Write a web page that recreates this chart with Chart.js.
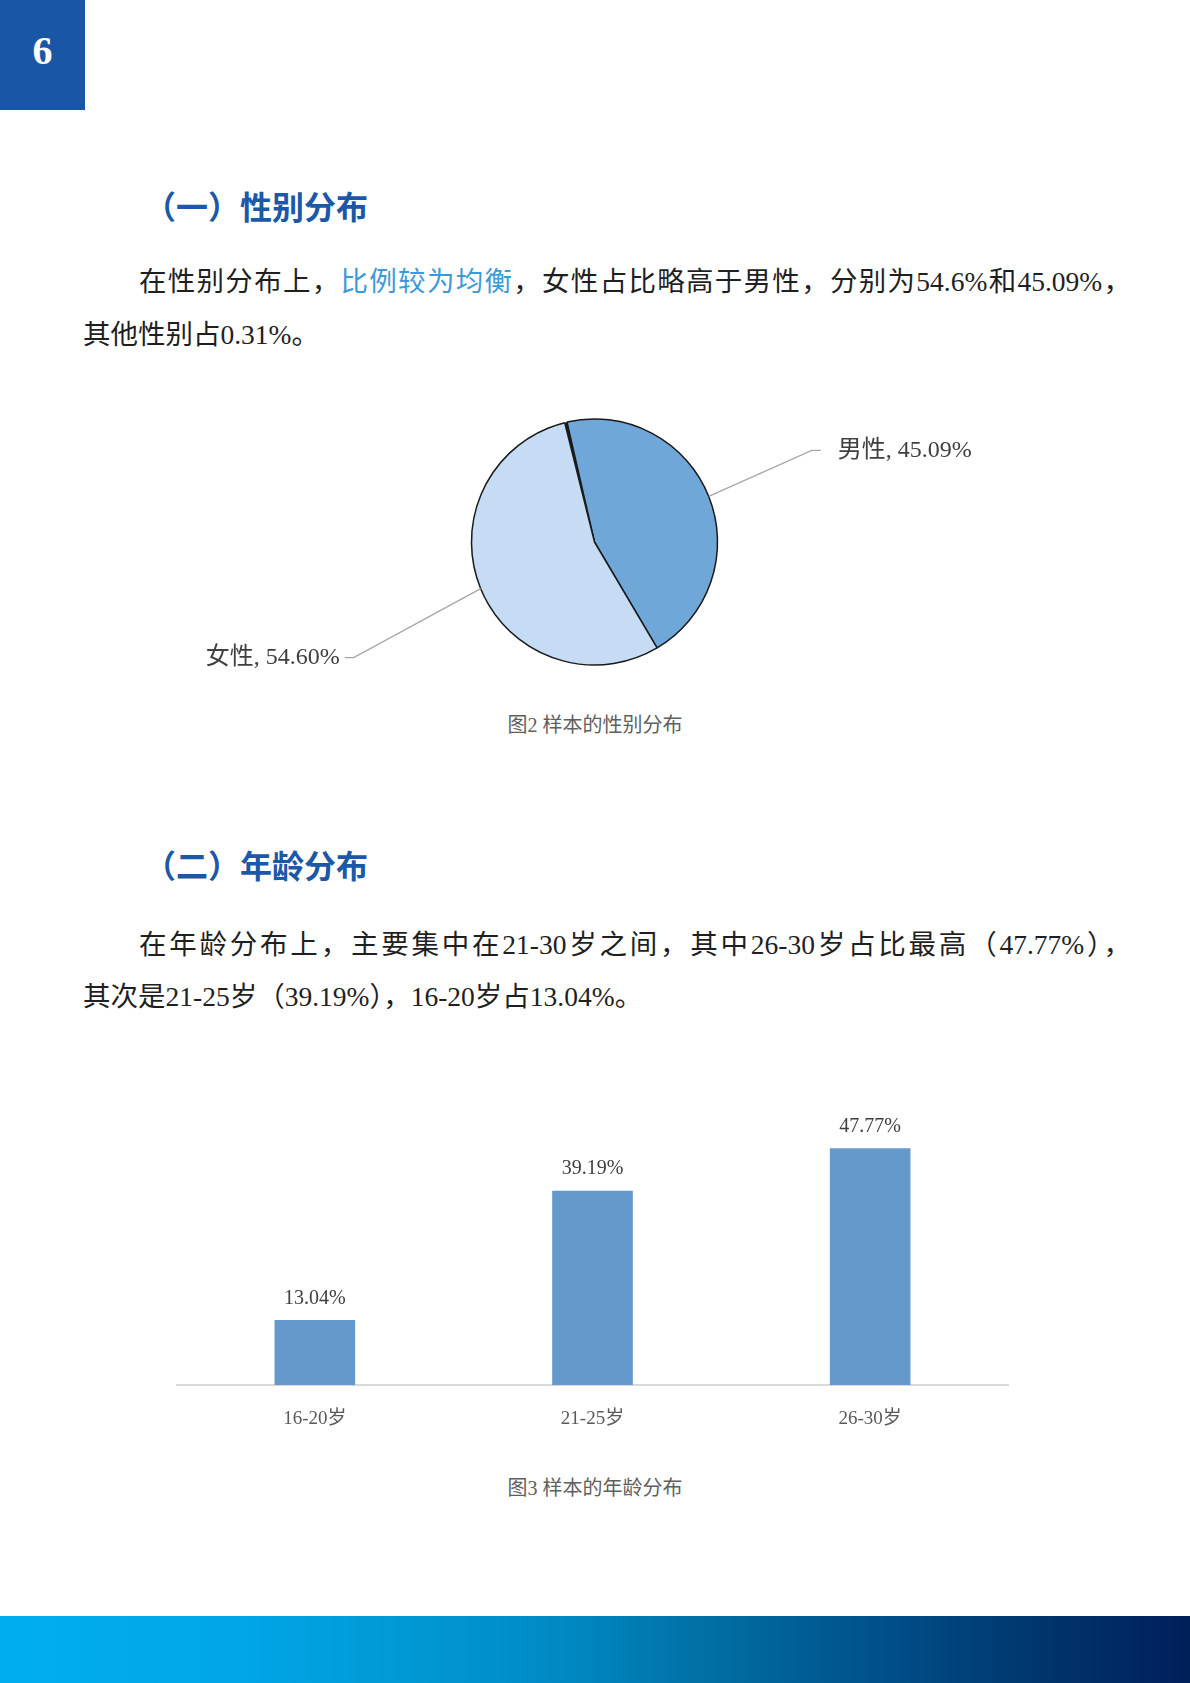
<!DOCTYPE html>
<html lang="zh-CN">
<head>
<meta charset="utf-8">
<title>样本的性别与年龄分布</title>
<script src="https://cdn.jsdelivr.net/npm/chart.js@4.4.1/dist/chart.umd.min.js"></script>
<style>
  html, body { margin: 0; padding: 0; background: #fff; }
  body {
    width: 1190px; height: 1683px; position: relative; overflow: hidden;
    font-family: "Liberation Serif", "Noto Sans CJK SC", serif; color: #1f1f1f;
  }
  .pageno {
    position: absolute; left: 0; top: 0; width: 85px; height: 110px;
    background: #1a56a6; color: #fff; text-align: center;
    font: bold 40px/102px "Liberation Serif", serif;
  }
  .heading { position: absolute; left: 144px; font-size: 32px; line-height: 40px; font-weight: bold; color: #1b58a7; }
  .line { position: absolute; font-size: 27.5px; line-height: 40px; white-space: normal; }
  .just { text-align: justify; text-align-last: justify; }
  .hl { color: #3d9ad6; }
  .caption { position: absolute; left: 0; width: 1190px; text-align: center; font-size: 20px; line-height: 28px; color: #5f5f5f; }
  .chartbox { position: absolute; }
  .footer {
    position: absolute; left: 0; top: 1616px; width: 1190px; height: 67px;
    background: linear-gradient(to right, #00aeef 0%, #00a6e6 20%, #0098d4 35%, #0088c2 48%,
                #006ea2 60%, #00508a 74%, #00346a 88%, #001f5b 100%);
  }
</style>
</head>
<body>

<div class="pageno">6</div>

<div class="heading" style="top:188px">（一）性别分布</div>
<div class="line just" style="left:139px; top:262px; width:992px">在性别分布上，<span class="hl">比例较为均衡</span>，女性占比略高于男性，分别为54.6%和45.09%，</div>
<div class="line" style="left:83px; top:315px">其他性别占0.31%。</div>

<div class="chartbox" style="left:180px; top:392px; width:829px; height:300px">
  <canvas id="genderChart"></canvas>
</div>
<div class="caption" style="top:711px">图2 样本的性别分布</div>

<div class="heading" style="top:847px">（二）年龄分布</div>
<div class="line just" style="left:139px; top:925px; width:992px">在年龄分布上，主要集中在21-30岁之间，其中26-30岁占比最高（47.77%），</div>
<div class="line" style="left:83px; top:977px">其次是21-25岁（39.19%），16-20岁占13.04%。</div>

<div class="chartbox" style="left:176px; top:1060px; width:833px; height:375px">
  <canvas id="ageChart"></canvas>
</div>
<div class="caption" style="top:1474px">图3 样本的年龄分布</div>

<div class="footer"></div>

<script>
// gender split (percent)
const genderLabels = ['男性', '女性', '其他'];
const genderValues = [45.09, 54.60, 0.31];
// the 0.31% sliver is so thin it only reads as the dividing line at the top
const genderColors = ['#70a7d9', '#c5dcf4', '#1a1a1a'];

// age split (percent)
const ageLabels = ['16-20岁', '21-25岁', '26-30岁'];
const ageValues = [13.04, 39.19, 47.77];

const labelFont = '"Liberation Serif", "Noto Sans CJK SC", serif';

// draws the leader lines and "name, xx.xx%" labels next to the pie slices
// each entry of opts.leads is the bend point relative to the slice edge, null = no label
const pieLeaders = {
  id: 'pieLeaders',
  afterDatasetsDraw(chart, args, opts) {
    const ctx = chart.ctx;
    const meta = chart.getDatasetMeta(0);
    const values = chart.data.datasets[0].data;
    meta.data.forEach(function (arc, i) {
      const lead = opts.leads[i];
      if (!lead) return;
      const p = arc.getProps(['x', 'y', 'startAngle', 'endAngle', 'outerRadius'], true);
      const mid = (p.startAngle + p.endAngle) / 2;
      const x0 = p.x + Math.cos(mid) * p.outerRadius;
      const y0 = p.y + Math.sin(mid) * p.outerRadius;
      const x1 = x0 + lead.dx;
      const y1 = y0 + lead.dy;
      const dir = lead.dx > 0 ? 1 : -1;
      const x2 = x1 + dir * 9;

      ctx.save();
      ctx.strokeStyle = '#a6a6a6';
      ctx.lineWidth = 1.3;
      ctx.beginPath();
      ctx.moveTo(x0, y0);
      ctx.lineTo(x1, y1);
      ctx.lineTo(x2, y1);
      ctx.stroke();

      ctx.fillStyle = '#404040';
      ctx.font = '24px ' + labelFont;
      ctx.textBaseline = 'middle';
      ctx.textAlign = dir > 0 ? 'left' : 'right';
      ctx.fillText(chart.data.labels[i] + ', ' + values[i].toFixed(2) + '%', x2 + dir * lead.gap, y1);
      ctx.restore();
    });
  }
};

// value labels above the bars
const barValueLabels = {
  id: 'barValueLabels',
  afterDatasetsDraw(chart, args, opts) {
    const ctx = chart.ctx;
    const values = chart.data.datasets[0].data;
    chart.getDatasetMeta(0).data.forEach(function (bar, i) {
      ctx.save();
      ctx.fillStyle = '#404040';
      ctx.font = '20px ' + labelFont;
      ctx.textAlign = 'center';
      ctx.textBaseline = 'middle';
      ctx.fillText(values[i].toFixed(2) + '%', bar.x, bar.y - opts.lift);
      ctx.restore();
    });
  }
};

new Chart(document.getElementById('genderChart'), {
  type: 'pie',
  data: {
    labels: genderLabels,
    datasets: [{
      data: genderValues,
      backgroundColor: genderColors,
      borderColor: '#1a1a1a',
      borderWidth: [1.5, 1.5, 0],
      hoverOffset: 0
    }]
  },
  options: {
    responsive: true,
    maintainAspectRatio: false,
    animation: false,
    rotation: -12.9,
    radius: 123,
    events: [],
    plugins: {
      legend: { display: false },
      tooltip: { enabled: false },
      pieLeaders: {
        leads: [
          { dx: 103, dy: -46, gap: 17 },
          { dx: -127, dy: 69, gap: 5 },
          null
        ]
      }
    }
  },
  plugins: [pieLeaders]
});

new Chart(document.getElementById('ageChart'), {
  type: 'bar',
  data: {
    labels: ageLabels,
    datasets: [{
      data: ageValues,
      backgroundColor: '#6599cb',
      barThickness: 80
    }]
  },
  options: {
    responsive: true,
    maintainAspectRatio: false,
    animation: false,
    events: [],
    layout: { padding: { top: 28 } },
    scales: {
      x: {
        grid: { display: false },
        border: { display: true, color: '#d9d9d9', width: 2 },
        ticks: { color: '#595959', font: { family: labelFont, size: 19 }, padding: 15 },
        afterFit: function (scale) { scale.height = 50; }
      },
      y: { display: false, min: 0, max: 60 }
    },
    plugins: {
      legend: { display: false },
      tooltip: { enabled: false },
      barValueLabels: { lift: 22 }
    }
  },
  plugins: [barValueLabels]
});
</script>
</body>
</html>
